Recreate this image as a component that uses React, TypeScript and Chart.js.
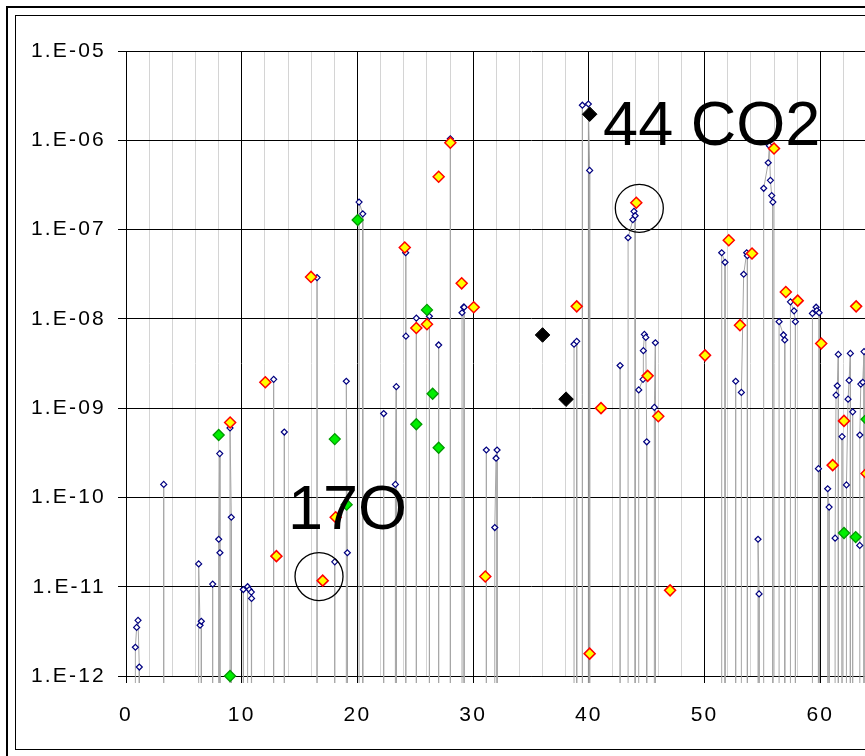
import React, { useEffect, useRef } from "react";
import { Chart, registerables } from "chart.js";

Chart.register(...registerables);

// Value used where the scan falls below the detection floor between peaks
const FLOOR = 1e-14;

// Blue scan: each sub-array is one peak cluster (mass, intensity)
const blueMass: number[][] = [
  [0.81, 0.92, 1.04, 1.15],
  [3.26],
  [6.28, 6.4, 6.51],
  [7.49],
  [8.01, 8.1, 8.12],
  [8.99, 9.1],
  [10.14],
  [10.51, 10.66, 10.83, 10.85],
  [12.76],
  [13.68],
  [16.51],
  [18.04],
  [19.04, 19.13],
  [20.14, 20.46],
  [22.27],
  [23.28, 23.36],
  [24.17, 24.19],
  [25.09],
  [26.22],
  [27.02],
  [28.03],
  [29.04, 29.18, 29.22],
  [31.14],
  [31.87, 31.98, 32.07],
  [38.72, 38.95],
  [39.44],
  [39.96, 40.07],
  [42.7],
  [43.39, 43.8, 43.9, 44.0],
  [44.31, 44.68, 44.71, 44.8, 44.92, 45.0],
  [45.66, 45.75],
  [51.48, 51.77],
  [52.69],
  [53.18, 53.38, 53.64, 53.7],
  [54.62, 54.71],
  [55.11, 55.5, 55.6, 55.69, 55.8, 55.9],
  [56.44, 56.82, 56.93],
  [57.42, 57.73, 57.85],
  [59.32, 59.64, 59.7, 59.9],
  [59.84],
  [60.64, 60.76],
  [61.28, 61.36, 61.47, 61.56],
  [61.88],
  [62.26, 62.4, 62.49, 62.6],
  [62.8],
  [63.41, 63.42, 63.5, 63.67, 63.78],
];
const blueIntensity: number[][] = [
  [2.1e-12, 3.5e-12, 4.2e-12, 1.26e-12],
  [1.4e-10],
  [1.8e-11, 3.7e-12, 4.1e-12],
  [1.07e-11],
  [3.4e-11, 3.1e-10, 2.4e-11],
  [6.0e-10, 6.0e-11],
  [9.3e-12],
  [1.0e-11, 9.3e-12, 8.7e-12, 7.4e-12],
  [2.1e-9],
  [5.4e-10],
  [2.9e-8],
  [1.9e-11],
  [2.0e-9, 2.4e-11],
  [2.03e-7, 1.5e-7],
  [8.7e-10],
  [1.4e-10, 1.74e-9],
  [5.5e-8, 6.4e-9],
  [1.02e-8],
  [1.07e-8],
  [5.1e-9],
  [1.04e-6],
  [1.17e-8, 1.35e-8, 1.35e-8],
  [3.4e-10],
  [4.6e-11, 2.75e-10, 3.4e-10],
  [5.2e-9, 5.6e-9],
  [2.47e-6],
  [2.55e-6, 4.6e-7],
  [3.0e-9],
  [8.1e-8, 1.29e-7, 1.6e-7, 1.43e-7],
  [1.6e-9, 2.1e-9, 4.4e-9, 6.7e-9, 6.2e-9, 4.2e-10],
  [1.02e-9, 5.4e-9],
  [5.5e-8, 4.3e-8],
  [2.0e-9],
  [1.5e-9, 3.16e-8, 5.5e-8, 5.1e-8],
  [3.4e-11, 8.3e-12],
  [2.9e-7, 5.6e-7, 8.7e-7, 3.56e-7, 2.4e-7, 2.03e-7],
  [9.3e-9, 6.6e-9, 5.8e-9],
  [1.55e-8, 1.23e-8, 9.3e-9],
  [1.15e-8, 1.35e-8, 1.24e-8, 1.17e-8],
  [2.1e-10],
  [1.25e-10, 7.8e-11],
  [3.5e-11, 1.4e-9, 1.78e-9, 4.0e-9],
  [4.8e-10],
  [1.38e-10, 1.26e-9, 2.05e-9, 4.1e-9],
  [9.1e-10],
  [2.9e-11, 5.0e-10, 1.86e-9, 1.95e-9, 4.3e-9],
];

// Yellow (red-edged) diamonds
const yellowMass = [
  9.0, 12.04, 13.0, 15.99, 17.0, 18.12, 24.09, 25.09, 26.01, 27.02, 28.03, 29.01,
  30.05, 31.05, 38.95, 40.07, 41.05, 44.1, 45.08, 46.0, 47.02, 50.04, 52.09, 53.06,
  54.1, 56.0, 57.02, 58.05, 60.08, 61.07, 62.05, 63.1, 64.0,
];
const yellowIntensity = [
  6.9e-10, 1.95e-9, 2.2e-11, 2.95e-8, 1.17e-11, 6.0e-11, 6.3e-8, 7.9e-9, 8.7e-9, 3.9e-7,
  9.4e-7, 2.5e-8, 1.35e-8, 1.3e-11, 1.38e-8, 1.78e-12, 1.0e-9, 2.0e-7, 2.3e-9, 8.1e-10,
  9.1e-12, 3.9e-9, 7.6e-8, 8.5e-9, 5.4e-8, 8.1e-7, 2.0e-8, 1.6e-8, 5.3e-9, 2.3e-10,
  7.2e-10, 1.38e-8, 1.85e-10,
];

// Green diamonds
const greenMass = [8.01, 8.99, 18.04, 19.07, 20.02, 25.09, 26.01, 26.5, 27.02, 62.05, 63.06, 64.0];
const greenIntensity = [5.0e-10, 1.0e-12, 4.5e-10, 8.3e-11, 1.28e-7, 6.6e-10, 1.26e-8, 1.45e-9, 3.6e-10, 4.0e-11, 3.6e-11, 7.5e-10];

// Black diamonds
const blackMass = [36.0, 38.03, 40.07];
const blackIntensity = [6.6e-9, 1.26e-9, 1.96e-6];

// Axis ticks
const xTickValues = [0, 2, 4, 6, 8, 10, 12, 14, 16, 18, 20, 22, 24, 26, 28, 30, 32, 34, 36, 38, 40, 42, 44, 46, 48, 50, 52, 54, 56, 58, 60, 62, 64, 66, 68, 70];
const yTickValues = [1e-12, 1e-11, 1e-10, 1e-9, 1e-8, 1e-7, 1e-6, 1e-5];
const yTickLabels = ["1.E-12", "1.E-11", "1.E-10", "1.E-09", "1.E-08", "1.E-07", "1.E-06", "1.E-05"];

// Annotations (anchored in data coordinates)
const noteTexts = ["17O", "44 CO2"];
const noteMass = [14.0, 41.23];
const noteValue = [4.46e-11, 8.87e-7];
const circleMass = [16.68, 44.36];
const circleValue = [1.3e-11, 1.73e-7];

const FONT = '"Liberation Sans", Arial, sans-serif';

export default function App() {
  const ref = useRef<HTMLCanvasElement>(null);

  useEffect(() => {
    const blueData: { x: number; y: number }[] = [];
    blueMass.forEach((ms, i) => {
      blueData.push({ x: ms[0], y: FLOOR });
      ms.forEach((m, j) => blueData.push({ x: m, y: blueIntensity[i][j] }));
      blueData.push({ x: ms[ms.length - 1], y: FLOOR });
    });
    const toPts = (xs: number[], ys: number[]) => xs.map((x, i) => ({ x, y: ys[i] }));

    const annot = {
      id: "annot",
      beforeDraw(chart: any) {
        // slightly wider spacing for the axis labels
        (chart.ctx as any).letterSpacing = "2.2px";
      },
      afterDatasetsDraw(chart: any) {
        const { ctx } = chart;
        const xs = chart.scales.x;
        const ys = chart.scales.y;
        ctx.save();
        ctx.letterSpacing = "0px";
        ctx.strokeStyle = "#000";
        ctx.lineWidth = 1.3;
        circleMass.forEach((m, i) => {
          ctx.beginPath();
          ctx.arc(xs.getPixelForValue(m), ys.getPixelForValue(circleValue[i]), 24, 0, Math.PI * 2);
          ctx.stroke();
        });
        ctx.fillStyle = "#000";
        ctx.font = `63px ${FONT}`;
        ctx.textAlign = "left";
        ctx.textBaseline = "alphabetic";
        noteTexts.forEach((t, i) => {
          ctx.fillText(t, xs.getPixelForValue(noteMass[i]), ys.getPixelForValue(noteValue[i]));
        });
        ctx.restore();
      },
      afterDraw(chart: any) {
        const { ctx } = chart;
        ctx.save();
        ctx.strokeStyle = "#000";
        ctx.lineWidth = 2;
        ctx.strokeRect(7, 7, 1200, 760);
        ctx.lineWidth = 1;
        ctx.strokeRect(15.5, 15.5, 1100, 734);
        ctx.restore();
        ctx.letterSpacing = "0px";
      },
    };

    const chart = new Chart(ref.current as HTMLCanvasElement, {
      type: "scatter",
      data: {
        datasets: [
          {
            label: "black",
            data: toPts(blackMass, blackIntensity),
            showLine: false,
            pointStyle: "rectRot",
            pointRadius: 7.3,
            backgroundColor: "#000000",
            borderColor: "#000000",
            pointBorderWidth: 1,
            order: 0,
            clip: false,
          } as any,
          {
            label: "yellow",
            data: toPts(yellowMass, yellowIntensity),
            showLine: false,
            pointStyle: "rectRot",
            pointRadius: 5.5,
            backgroundColor: "#ffff00",
            borderColor: "#ff0000",
            pointBorderWidth: 1.5,
            order: 1,
            clip: false,
          },
          {
            label: "green",
            data: toPts(greenMass, greenIntensity),
            showLine: false,
            pointStyle: "rectRot",
            pointRadius: 5.5,
            backgroundColor: "#00ee00",
            borderColor: "#009900",
            pointBorderWidth: 1.3,
            order: 2,
            clip: false,
          },
          {
            label: "scan",
            data: blueData,
            showLine: true,
            borderColor: "#a6a6a6",
            borderWidth: 1,
            tension: 0,
            pointStyle: "rectRot",
            pointRadius: (c: any) => (c.raw && c.raw.y === FLOOR ? 0 : 3),
            pointBackgroundColor: "#ffffff",
            pointBorderColor: "#000080",
            pointBorderWidth: 1.2,
            order: 3,
            clip: { left: 10, top: 10, right: 10, bottom: 7 },
          },
        ],
      },
      options: {
        animation: false,
        responsive: false,
        maintainAspectRatio: false,
        layout: { padding: { left: 0, top: 51, right: 64, bottom: 0 } },
        plugins: { legend: { display: false }, tooltip: { enabled: false } },
        scales: {
          x: {
            type: "linear",
            min: 0,
            max: 70,
            afterBuildTicks: (s: any) => {
              s.ticks = xTickValues.map((v) => ({ value: v }));
            },
            afterFit: (s: any) => {
              s.height = 80;
            },
            ticks: {
              autoSkip: false,
              maxRotation: 0,
              padding: 20,
              color: "#000",
              font: { family: FONT, size: 21 },
              callback: (v: any) => (Number(v) % 10 === 0 ? String(v) : ""),
            },
            grid: {
              color: (c: any) => (c.tick && c.tick.value % 10 === 0 ? "#000000" : "#d4d4d4"),
              tickColor: (c: any) => (c.tick && c.tick.value % 10 === 0 ? "#000000" : "rgba(0,0,0,0)"),
              tickLength: 7,
              lineWidth: 1,
            },
            border: { color: "#000", width: 1 },
          },
          y: {
            type: "logarithmic",
            min: 1e-12,
            max: 1e-5,
            afterBuildTicks: (s: any) => {
              s.ticks = yTickValues.map((v) => ({ value: v }));
            },
            afterFit: (s: any) => {
              s.width = 126;
            },
            ticks: {
              padding: 12,
              color: "#000",
              font: { family: FONT, size: 21 },
              callback: (_v: any, i: number) => yTickLabels[i],
            },
            grid: { color: "#000", tickColor: "#000", tickLength: 8, lineWidth: 1 },
            border: { color: "#000", width: 1 },
          },
        },
      } as any,
      plugins: [annot],
    });
    return () => chart.destroy();
  }, []);

  return (
    <div
      style={{
        position: "fixed",
        left: 0,
        top: 0,
        width: 865,
        height: 756,
        overflow: "hidden",
        background: "#fff",
      }}
    >
      <canvas ref={ref} width={1000} height={756} style={{ display: "block", width: 1000, height: 756 }} />
    </div>
  );
}
